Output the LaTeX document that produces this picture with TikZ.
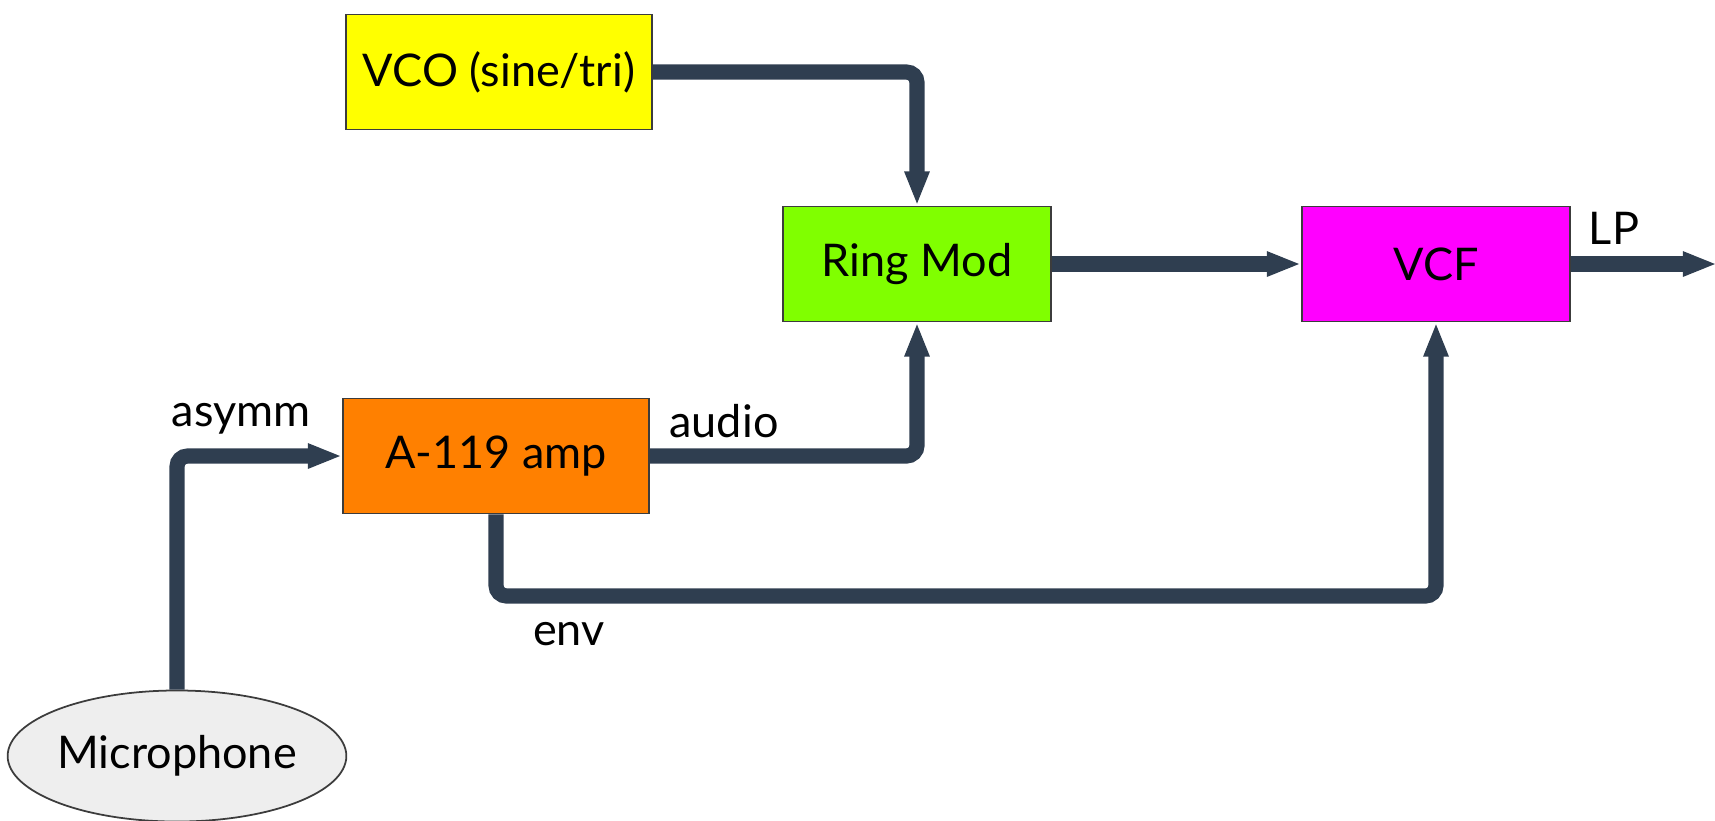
\documentclass[tikz,border=0pt]{standalone}
\usepackage{fontspec}
\setmainfont{Lato}
\usepackage{tikz}
\usetikzlibrary{arrows.meta, positioning, shapes.geometric}
\definecolor{wireblue}{RGB}{47,62,80}
\definecolor{vcoyellow}{RGB}{255,255,0}
\definecolor{ringgreen}{RGB}{128,255,0}
\definecolor{vcfmagenta}{RGB}{255,0,255}
\definecolor{amporange}{RGB}{255,128,0}
\definecolor{micgray}{RGB}{238,238,238}
\definecolor{edgegray}{RGB}{60,60,60}

\begin{document}
\begin{tikzpicture}[x=0.01cm, y=-0.01cm, font=\fontsize{12.8}{15}\selectfont,
  module/.style={draw=edgegray, line width=0.5pt, minimum height=1.15cm, inner sep=0pt},
  wire/.style={draw=wireblue, line width=4.3pt, rounded corners=3pt,
    -{Triangle[length=9.7pt, width=6.5pt]}},
  tag/.style={inner sep=0pt}]

  % Page size
  \useasboundingbox (0,0) rectangle (1715,820);

  % Modules
  \node[module, fill=vcoyellow, minimum width=3.06cm] (vco) at (499,72) {VCO (sine/tri)};
  \node[module, fill=ringgreen, minimum width=2.68cm] (ring) at (917,264) {Ring Mod};
  \node[module, fill=vcfmagenta, minimum width=2.68cm] (vcf) at (1436,264) {VCF};
  \node[module, fill=amporange, minimum width=3.06cm] (amp) at (496,456) {A-119 amp};
  \node[ellipse, draw=edgegray, line width=0.5pt, fill=micgray, minimum width=3.28cm,
    minimum height=1.31cm, inner sep=0pt] (mic) at (177,756) {Microphone};

  % Helper points
  \coordinate (lpend) at (1717,264);
  \coordinate (envrow) at (0,596);

  % Signal wires
  \draw[wire] (vco.east) -| (ring.north);
  \draw[wire] (amp.east) -| (ring.south);
  \draw[wire] (ring.east) -- (vcf.west);
  \draw[wire] (vcf.east) -- (lpend);
  \draw[wire] (amp.south) -- (amp.south |- envrow) -| (vcf.south);
  \draw[wire] (mic.north) |- (amp.west);

  % Wire labels
  \node[tag] (asymm) at (241,419) {asymm};
  \node[tag] (audio) at (724,421) {audio};
  \node[tag] (lp) at (1614,228) {LP};
  \node[tag] (env) at (569,634) {env};

\end{tikzpicture}
\end{document}
